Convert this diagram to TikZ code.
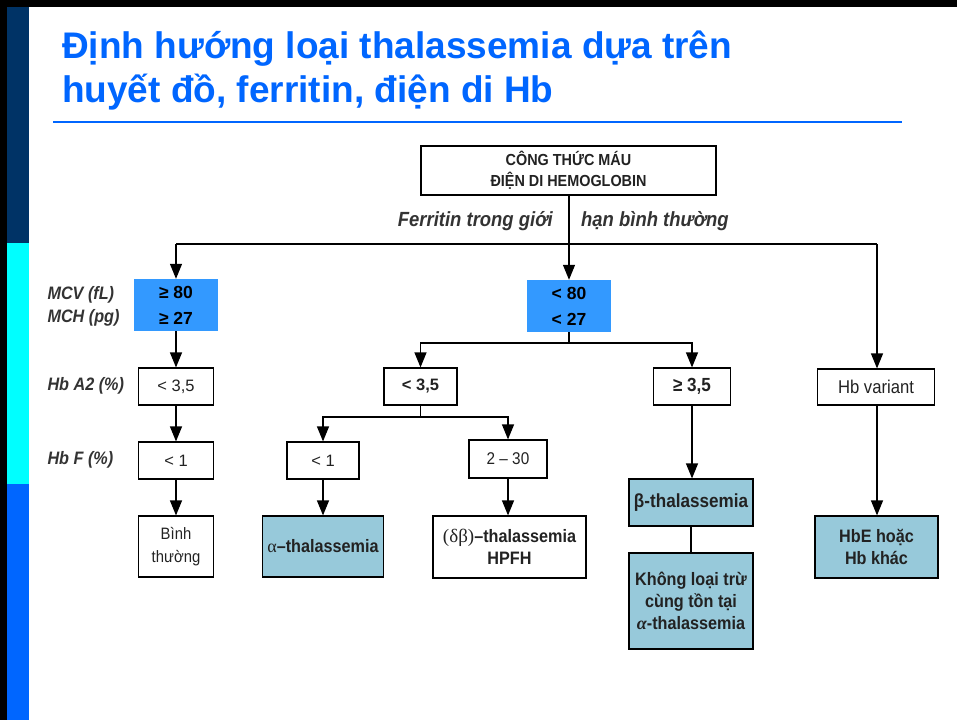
\documentclass[tikz,border=0pt]{standalone}
\usepackage{fontspec}
\setmainfont{Liberation Sans}
\newfontfamily\condf[FakeStretch=0.9]{Liberation Sans}
\newfontfamily\serf{Liberation Serif}
\usetikzlibrary{arrows.meta}

\definecolor{navy}{HTML}{003366}
\definecolor{aqua}{HTML}{00FFFF}
\definecolor{royal}{HTML}{0066FF}
\definecolor{boxblue}{HTML}{3399FF}
\definecolor{teal}{HTML}{97C9DA}
\definecolor{ink}{HTML}{222222}
\definecolor{labelgray}{HTML}{333333}

\tikzset{
  conn/.style={line width=1.2pt, draw=black},
  arr/.style={conn, -{Triangle[width=12pt,length=15pt]}},
  plainbox/.style={draw=black, line width=1.2pt, fill=white, inner sep=0pt,
    align=center, text=ink, font=\condf\fontsize{18.5}{23}\selectfont},
  valbox/.style={plainbox, font=\fontsize{16.5}{21}\selectfont},
  boldval/.style={plainbox, font=\bfseries\fontsize{16.5}{21}\selectfont},
  resbox/.style={plainbox, fill=teal, font=\condf\bfseries\fontsize{18}{22}\selectfont},
  cutbox/.style={fill=boxblue, inner sep=0pt, align=center, text=black,
    font=\bfseries\fontsize{17.5}{26}\selectfont},
  rowlabel/.style={anchor=west, text=labelgray, align=left,
    font=\condf\bfseries\itshape\fontsize{18}{23}\selectfont},
}

\begin{document}
\begin{tikzpicture}[x=1pt,y=-1pt]
  % page
  \path[fill=white,use as bounding box] (0,0) rectangle (957,720);
  \fill[black] (0,0) rectangle (957,7);
  \fill[black] (0,0) rectangle (7,720);
  \fill[navy] (7,7) rectangle (29,243);
  \fill[aqua] (7,243) rectangle (29,484);
  \fill[royal] (7,484) rectangle (29,720);

  % heading
  \node[anchor=base west, text=royal, align=left, inner sep=0pt,
    font=\bfseries\fontsize{37}{44}\selectfont] (title) at (62,102)
    {Định hướng loại thalassemia dựa trên\\huyết đồ, ferritin, điện di Hb};
  \draw[royal, line width=2.2pt] (53,122) -- (902,122);

  % root
  \node[plainbox, minimum width=295pt, minimum height=49pt,
    font=\condf\bfseries\fontsize{16}{21}\selectfont] (top) at (568.5,170.5)
    {CÔNG THỨC MÁU\\ĐIỆN DI HEMOGLOBIN};
  \node[anchor=base east, text=labelgray, inner sep=0pt,
    font=\condf\bfseries\itshape\fontsize{20.5}{24}\selectfont] (ferl) at (553,226)
    {Ferritin trong giới};
  \node[anchor=base west, text=labelgray, inner sep=0pt,
    font=\condf\bfseries\itshape\fontsize{20.5}{24}\selectfont] (ferr) at (581,226)
    {hạn bình thường};

  % MCV / MCH cut-offs
  \node[cutbox, minimum width=84pt, minimum height=52pt] (hi) at (176,305)
    {≥ 80\\≥ 27};
  \node[cutbox, minimum width=84pt, minimum height=52pt] (lo) at (569,306)
    {< 80\\< 27};

  % row labels
  \node[rowlabel] (lmcv) at (44,306) {MCV (fL)\\MCH (pg)};
  \node[rowlabel] (la2) at (44,386) {Hb A2 (\%)};
  \node[rowlabel] (lf) at (44,460) {Hb F (\%)};

  % Hb A2 level
  \node[valbox, minimum width=75pt, minimum height=37pt] (a2l) at (176,386.5) {< 3,5};
  \node[boldval, minimum width=73pt, minimum height=37pt] (a2m) at (420.5,386.5) {< 3,5};
  \node[boldval, minimum width=77pt, minimum height=37pt,
    font=\condf\bfseries\fontsize{19}{21}\selectfont] (a2h) at (692,386.5) {≥ 3,5};
  \node[plainbox, minimum width=117pt, minimum height=36pt] (var) at (876,387) {Hb variant};

  % Hb F level
  \node[valbox, minimum width=75pt, minimum height=37pt] (fl) at (176,460.5) {< 1};
  \node[valbox, minimum width=72pt, minimum height=37pt] (f1) at (323,460.5) {< 1};
  \node[valbox, minimum width=78pt, minimum height=38pt,
    font=\condf\fontsize{17}{21}\selectfont] (f2) at (508,459) {2 – 30};

  % outcomes
  \node[plainbox, minimum width=75pt, minimum height=61pt,
    font=\condf\fontsize{16.5}{23}\selectfont] (norm) at (176,546.5)
    {Bình\\thường};
  \node[resbox, minimum width=121pt, minimum height=61pt] (alpha) at (323,546.5)
    {{\serf\mdseries α}–thalassemia};
  \node[plainbox, minimum width=153pt, minimum height=62pt,
    font=\condf\bfseries\fontsize{18}{22}\selectfont] (db) at (509.5,547)
    {{\serf\mdseries\fontsize{19}{22}\selectfont (δβ)}–thalassemia\\HPFH};
  \node[resbox, minimum width=124pt, minimum height=47pt,
    font=\condf\bfseries\fontsize{19}{22}\selectfont] (beta) at (691,502.5)
    {β-thalassemia};
  \node[resbox, minimum width=124pt, minimum height=96pt] (nox) at (691,601)
    {Không loại trừ\\cùng tồn tại\\{\serf\itshape α}-thalassemia};
  \node[resbox, minimum width=123pt, minimum height=62pt] (hbe) at (876.5,547)
    {HbE hoặc\\Hb khác};

  % branch points
  \coordinate (bl) at (176,244);
  \coordinate (br) at (877,244);
  \coordinate (bm) at (569,343);
  \coordinate (bn) at (420.5,417);

  % connectors
  \draw[arr] (top.south -| lo.north) -- (lo.north);
  \draw[conn] (bl) -- (br);
  \draw[arr] (bl) -- (hi.north);
  \draw[arr] (br) -- (br |- var.north);
  \draw[arr] (hi.south) -- (a2l.north);
  \draw[arr] (a2l.south) -- (fl.north);
  \draw[arr] (fl.south) -- (norm.north);
  \draw[conn] (lo.south) -- (bm);
  \draw[arr] (bm) -| (a2m.north);
  \draw[arr] (bm) -| (a2h.north);
  \draw[conn] (a2m.south) -- (bn);
  \draw[arr] (bn) -| (f1.north);
  \draw[arr] (bn) -| (f2.north);
  \draw[arr] (f1.south) -- (alpha.north);
  \draw[arr] (f2.south) -- (f2.south |- db.north);
  \draw[arr] (a2h.south) -- (a2h.south |- beta.north);
  \draw[conn] (beta.south) -- (nox.north);
  \draw[arr] (br |- var.south) -- (br |- hbe.north);
\end{tikzpicture}
\end{document}
